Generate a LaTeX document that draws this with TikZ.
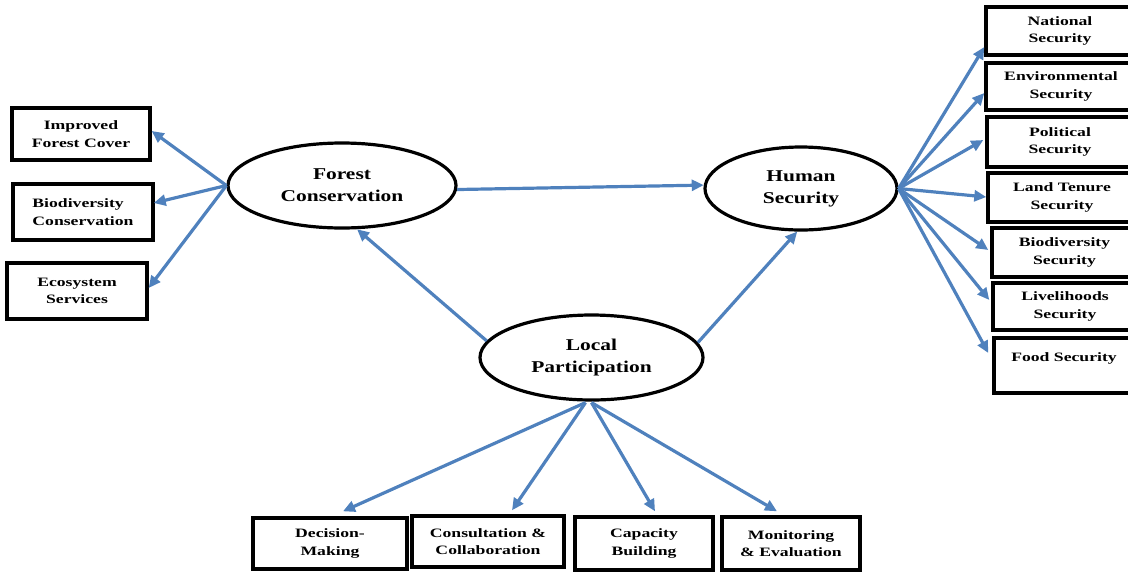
\documentclass[tikz,border=0pt]{standalone}
\usepackage{fontspec}
\setmainfont{Liberation Serif}
\newfontfamily\boxfont{Liberation Serif}[FakeStretch=1.38]
\newfontfamily\ovalfont{Liberation Serif}[FakeStretch=1.3]
\usetikzlibrary{shapes.geometric,arrows.meta,calc}
\definecolor{linkblue}{RGB}{79,129,189}
\begin{document}
\begin{tikzpicture}[x=1pt,y=-1pt,
  concept/.style={ellipse,draw,line width=3.2pt,fill=white,inner sep=0pt,align=center,
    font=\ovalfont\bfseries\fontsize{16.5}{22}\selectfont},
  item/.style={rectangle,draw,line width=3.4pt,fill=white,inner sep=0pt,align=center,
    font=\boxfont\bfseries\fontsize{12.8}{17.5}\selectfont},
  link/.style={draw=linkblue,line width=3.2pt,-{Triangle[length=12pt,width=11pt]}}]
\useasboundingbox (0,0) rectangle (1128,574);
\clip (0,0) rectangle (1128,574);

% central concepts
\node[concept,minimum width=228pt,minimum height=85pt] (fc) at (342,185.5) {Forest\\Conservation};
\node[concept,minimum width=192pt,minimum height=83pt] (hs) at (801,188.5) {Human\\Security};
\node[concept,minimum width=223pt,minimum height=85pt] (lp) at (591.5,357.5) {Local\\Participation};

% outcomes of forest conservation
\node[item,minimum width=138pt,minimum height=52pt] (imp) at (81,134) {Improved\\Forest Cover};
\node[item,minimum width=140pt,minimum height=56pt,align=left] (bio) at (83,212) {Biodiversity\\Conservation};
\node[item,minimum width=140pt,minimum height=56pt] (eco) at (77,291) {Ecosystem\\Services};

% dimensions of human security
\node[item,minimum width=148pt,minimum height=48pt] (nat) at (1060,31) {National\\Security};
\node[item,minimum width=150pt,minimum height=47pt] (env) at (1061,86.5) {Environmental\\Security};
\node[item,minimum width=146pt,minimum height=50pt] (pol) at (1060,142) {Political\\Security};
\node[item,minimum width=148pt,minimum height=49pt] (lan) at (1062,197.5) {Land Tenure\\Security};
\node[item,minimum width=145pt,minimum height=49pt] (bsec) at (1064.5,252.5) {Biodiversity\\Security};
\node[item,minimum width=144pt,minimum height=47pt] (liv) at (1065,306.5) {Livelihoods\\Security};
\node[item,minimum width=140pt,minimum height=55pt] (foo) at (1064,365.5) {Food Security\\\mbox{}};

% forms of local participation
\node[item,minimum width=154pt,minimum height=51pt] (dec) at (330,543.5) {Decision-\\Making};
\node[item,minimum width=152pt,minimum height=51pt] (con) at (488,541.5) {Consultation \&\\Collaboration};
\node[item,minimum width=138pt,minimum height=53pt] (cap) at (644,543.5) {Capacity\\Building};
\node[item,minimum width=138pt,minimum height=53pt] (mon) at (791,543.5) {Monitoring\\\& Evaluation};

% links between the concepts
\draw[link] (fc.-2) -- (hs.178);
\draw[link] (lp.171) -- (fc.-71);
\draw[link] (lp.8) -- (hs.-95);

% forest conservation fan
\draw[link] (fc.west) -- ($(imp.east)+(0,-3)$);
\draw[link] (fc.west) -- ($(bio.east)+(-1,-9)$);
\draw[link] (fc.west) -- ($(eco.east)+(0,-3)$);

% human security fan
\draw[link] (hs.east) -- ($(nat.west)+(0,16)$);
\draw[link] (hs.east) -- ($(env.west)+(0,6.5)$);
\draw[link] (hs.east) -- ($(pol.west)+(-2,-2)$);
\draw[link] (hs.east) -- ($(lan.west)+(0,-0.5)$);
\draw[link] (hs.east) -- ($(bsec.west)+(-2,-2.5)$);
\draw[link] (hs.east) -- ($(liv.west)+(-2,-6.5)$);
\draw[link] (hs.east) -- ($(foo.west)+(-4,-12.5)$);

% local participation fan
\draw[link] ($(lp.south)+(-6,1)$) -- ($(dec.north)+(13,-5)$);
\draw[link] ($(lp.south)+(-6,1)$) -- ($(con.north)+(24,-4)$);
\draw[link] ($(lp.south)+(0,1)$) -- ($(cap.north)+(11,-4)$);
\draw[link] ($(lp.south)+(0,1)$) -- ($(mon.north)+(-14,-4)$);
\end{tikzpicture}
\end{document}
